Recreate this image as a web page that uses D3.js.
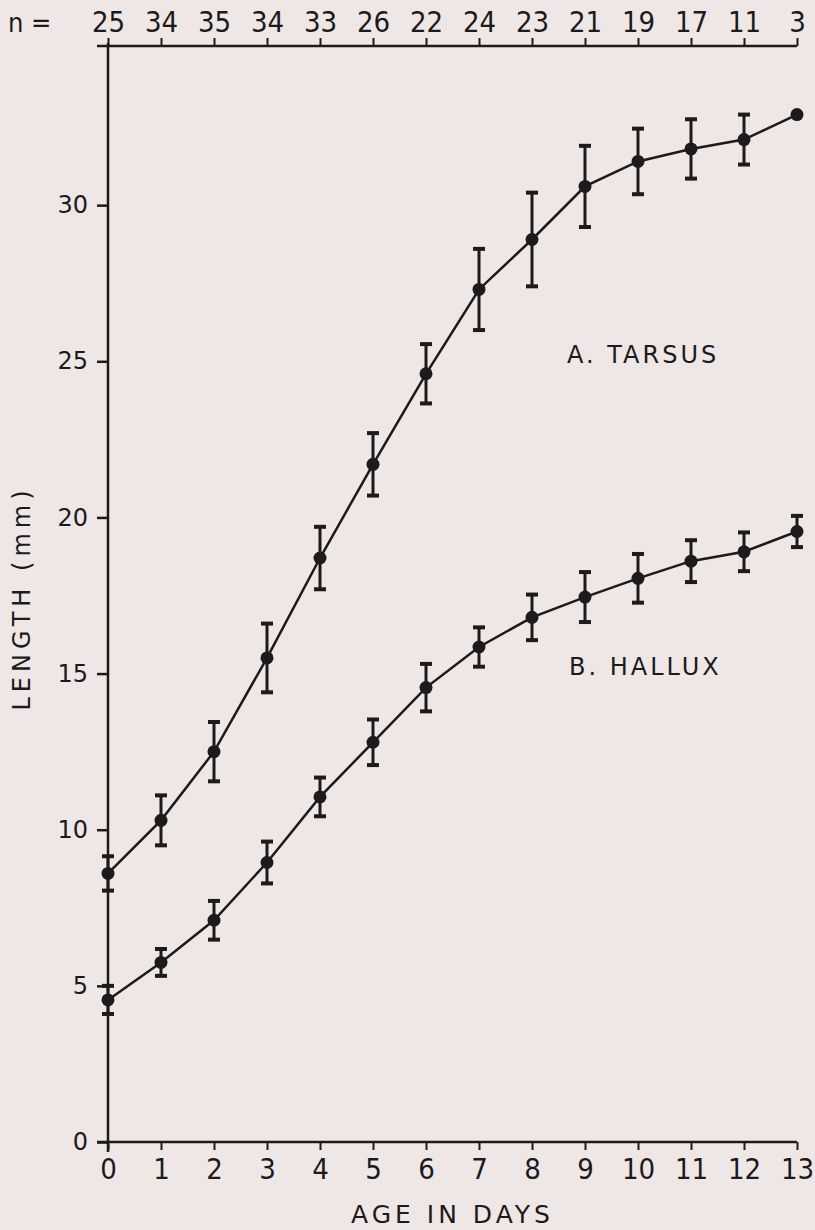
<!DOCTYPE html>
<html>
<head>
<meta charset="utf-8">
<script src="https://cdn.jsdelivr.net/npm/d3@7"></script>
<style>
  body { margin: 0; background: #eee7e6; }
  svg { display: block; }
  .lbl { font-family: "DejaVu Sans", sans-serif; fill: #1c1a1b; }
  .num { font-family: "Liberation Sans Narrow", "DejaVu Sans Condensed", sans-serif; fill: #1c1a1b; }
</style>
</head>
<body>
<div id="chart"></div>
<script>
// age in days and sample sizes (top axis)
const days = [0, 1, 2, 3, 4, 5, 6, 7, 8, 9, 10, 11, 12, 13];
const nCounts = [25, 34, 35, 34, 33, 26, 22, 24, 23, 21, 19, 17, 11, 3];

// A. tarsus: means and error bar half-widths (mm)
const tarsusMean = [8.6, 10.3, 12.5, 15.5, 18.7, 21.7, 24.6, 27.3, 28.9, 30.6, 31.4, 31.8, 32.1, 32.9];
const tarsusErr = [0.55, 0.8, 0.95, 1.1, 1.0, 1.0, 0.95, 1.3, 1.5, 1.3, 1.05, 0.95, 0.8, 0];

// B. hallux
const halluxMean = [4.55, 5.75, 7.1, 8.95, 11.05, 12.8, 14.55, 15.85, 16.8, 17.45, 18.05, 18.6, 18.9, 19.55];
const halluxErr = [0.45, 0.43, 0.62, 0.67, 0.62, 0.73, 0.76, 0.63, 0.73, 0.8, 0.78, 0.67, 0.62, 0.5];

const yTicks = [0, 5, 10, 15, 20, 25, 30];

const width = 815, height = 1230;
const ink = "#1c1a1b";

const svg = d3.select("#chart").append("svg")
  .attr("width", width)
  .attr("height", height);

const x = d3.scaleLinear().domain([0, 13]).range([108, 797]);
const y = d3.scaleLinear().domain([0, 35]).range([1142, 49]);

// left axis
const leftAxis = d3.axisLeft(y).tickValues(yTicks).tickSize(11).tickPadding(9);
const gy = svg.append("g").attr("transform", `translate(${x(0)},0)`).call(leftAxis);
gy.select(".domain").remove();
gy.selectAll("line").attr("stroke", ink).attr("stroke-width", 2.5);
gy.selectAll("text").attr("class", "lbl").style("font-size", "24px").attr("font-family", null);
gy.append("line")
  .attr("x1", 0).attr("x2", 0)
  .attr("y1", y(35) - 6).attr("y2", y(0) + 10)
  .attr("stroke", ink).attr("stroke-width", 2.5);

// bottom axis
const bottomAxis = d3.axisBottom(x).tickValues(days).tickSize(8).tickPadding(8);
const gx = svg.append("g").attr("transform", `translate(0,${y(0)})`).call(bottomAxis);
gx.select(".domain").remove();
gx.selectAll("line").attr("stroke", ink).attr("stroke-width", 2);
gx.selectAll("text").attr("class", "num").style("font-size", "29px").attr("font-family", null);
gx.append("line")
  .attr("x1", x(0) - 11).attr("x2", x(13))
  .attr("stroke", ink).attr("stroke-width", 2.5);

// top axis with n values
const topAxis = d3.axisTop(x).tickValues(days).tickSize(8).tickPadding(6)
  .tickFormat((d, i) => nCounts[i]);
const gt = svg.append("g").attr("transform", `translate(0,${y(35) - 3})`).call(topAxis);
gt.select(".domain").remove();
gt.selectAll("line").attr("stroke", ink).attr("stroke-width", 2);
gt.selectAll("text").attr("class", "num").style("font-size", "29px").attr("font-family", null);
gt.append("line")
  .attr("x1", x(0) - 11).attr("x2", x(13))
  .attr("stroke", ink).attr("stroke-width", 2.5);
gt.append("text")
  .attr("class", "num")
  .attr("x", 8).attr("y", -14)
  .attr("text-anchor", "start")
  .style("font-size", "27px")
  .text("n =");

// axis titles
svg.append("text")
  .attr("class", "lbl")
  .attr("x", x(6.5)).attr("y", 1223)
  .attr("text-anchor", "middle")
  .style("font-size", "25px")
  .style("letter-spacing", "4px")
  .text("AGE IN DAYS");

svg.append("text")
  .attr("class", "lbl")
  .attr("transform", "translate(30,598) rotate(-90)")
  .attr("text-anchor", "middle")
  .style("font-size", "24px")
  .style("letter-spacing", "5px")
  .text("LENGTH (mm)");

// series
const series = [
  { mean: tarsusMean, err: tarsusErr, label: "A. TARSUS", lx: 567, ly: 363 },
  { mean: halluxMean, err: halluxErr, label: "B. HALLUX", lx: 569, ly: 675 }
];

const line = d3.line()
  .x(d => x(d.day))
  .y(d => y(d.v));

series.forEach(s => {
  const pts = days.map((d, i) => ({ day: d, v: s.mean[i], e: s.err[i] }));
  const g = svg.append("g");

  g.append("path")
    .datum(pts)
    .attr("d", line)
    .attr("fill", "none")
    .attr("stroke", ink)
    .attr("stroke-width", 2.5);

  const bars = g.selectAll(".eb").data(pts.filter(p => p.e > 0)).enter().append("g");
  bars.append("line")
    .attr("x1", d => x(d.day)).attr("x2", d => x(d.day))
    .attr("y1", d => y(d.v - d.e)).attr("y2", d => y(d.v + d.e))
    .attr("stroke", ink).attr("stroke-width", 3);
  [-1, 1].forEach(sign => {
    bars.append("line")
      .attr("x1", d => x(d.day) - 6).attr("x2", d => x(d.day) + 6)
      .attr("y1", d => y(d.v + sign * d.e)).attr("y2", d => y(d.v + sign * d.e))
      .attr("stroke", ink).attr("stroke-width", 4);
  });

  g.selectAll("circle").data(pts).enter().append("circle")
    .attr("cx", d => x(d.day))
    .attr("cy", d => y(d.v))
    .attr("r", 6.5)
    .attr("fill", ink);

  svg.append("text")
    .attr("class", "lbl")
    .attr("x", s.lx).attr("y", s.ly)
    .style("font-size", "24px")
    .style("letter-spacing", "3px")
    .text(s.label);
});
</script>
</body>
</html>
